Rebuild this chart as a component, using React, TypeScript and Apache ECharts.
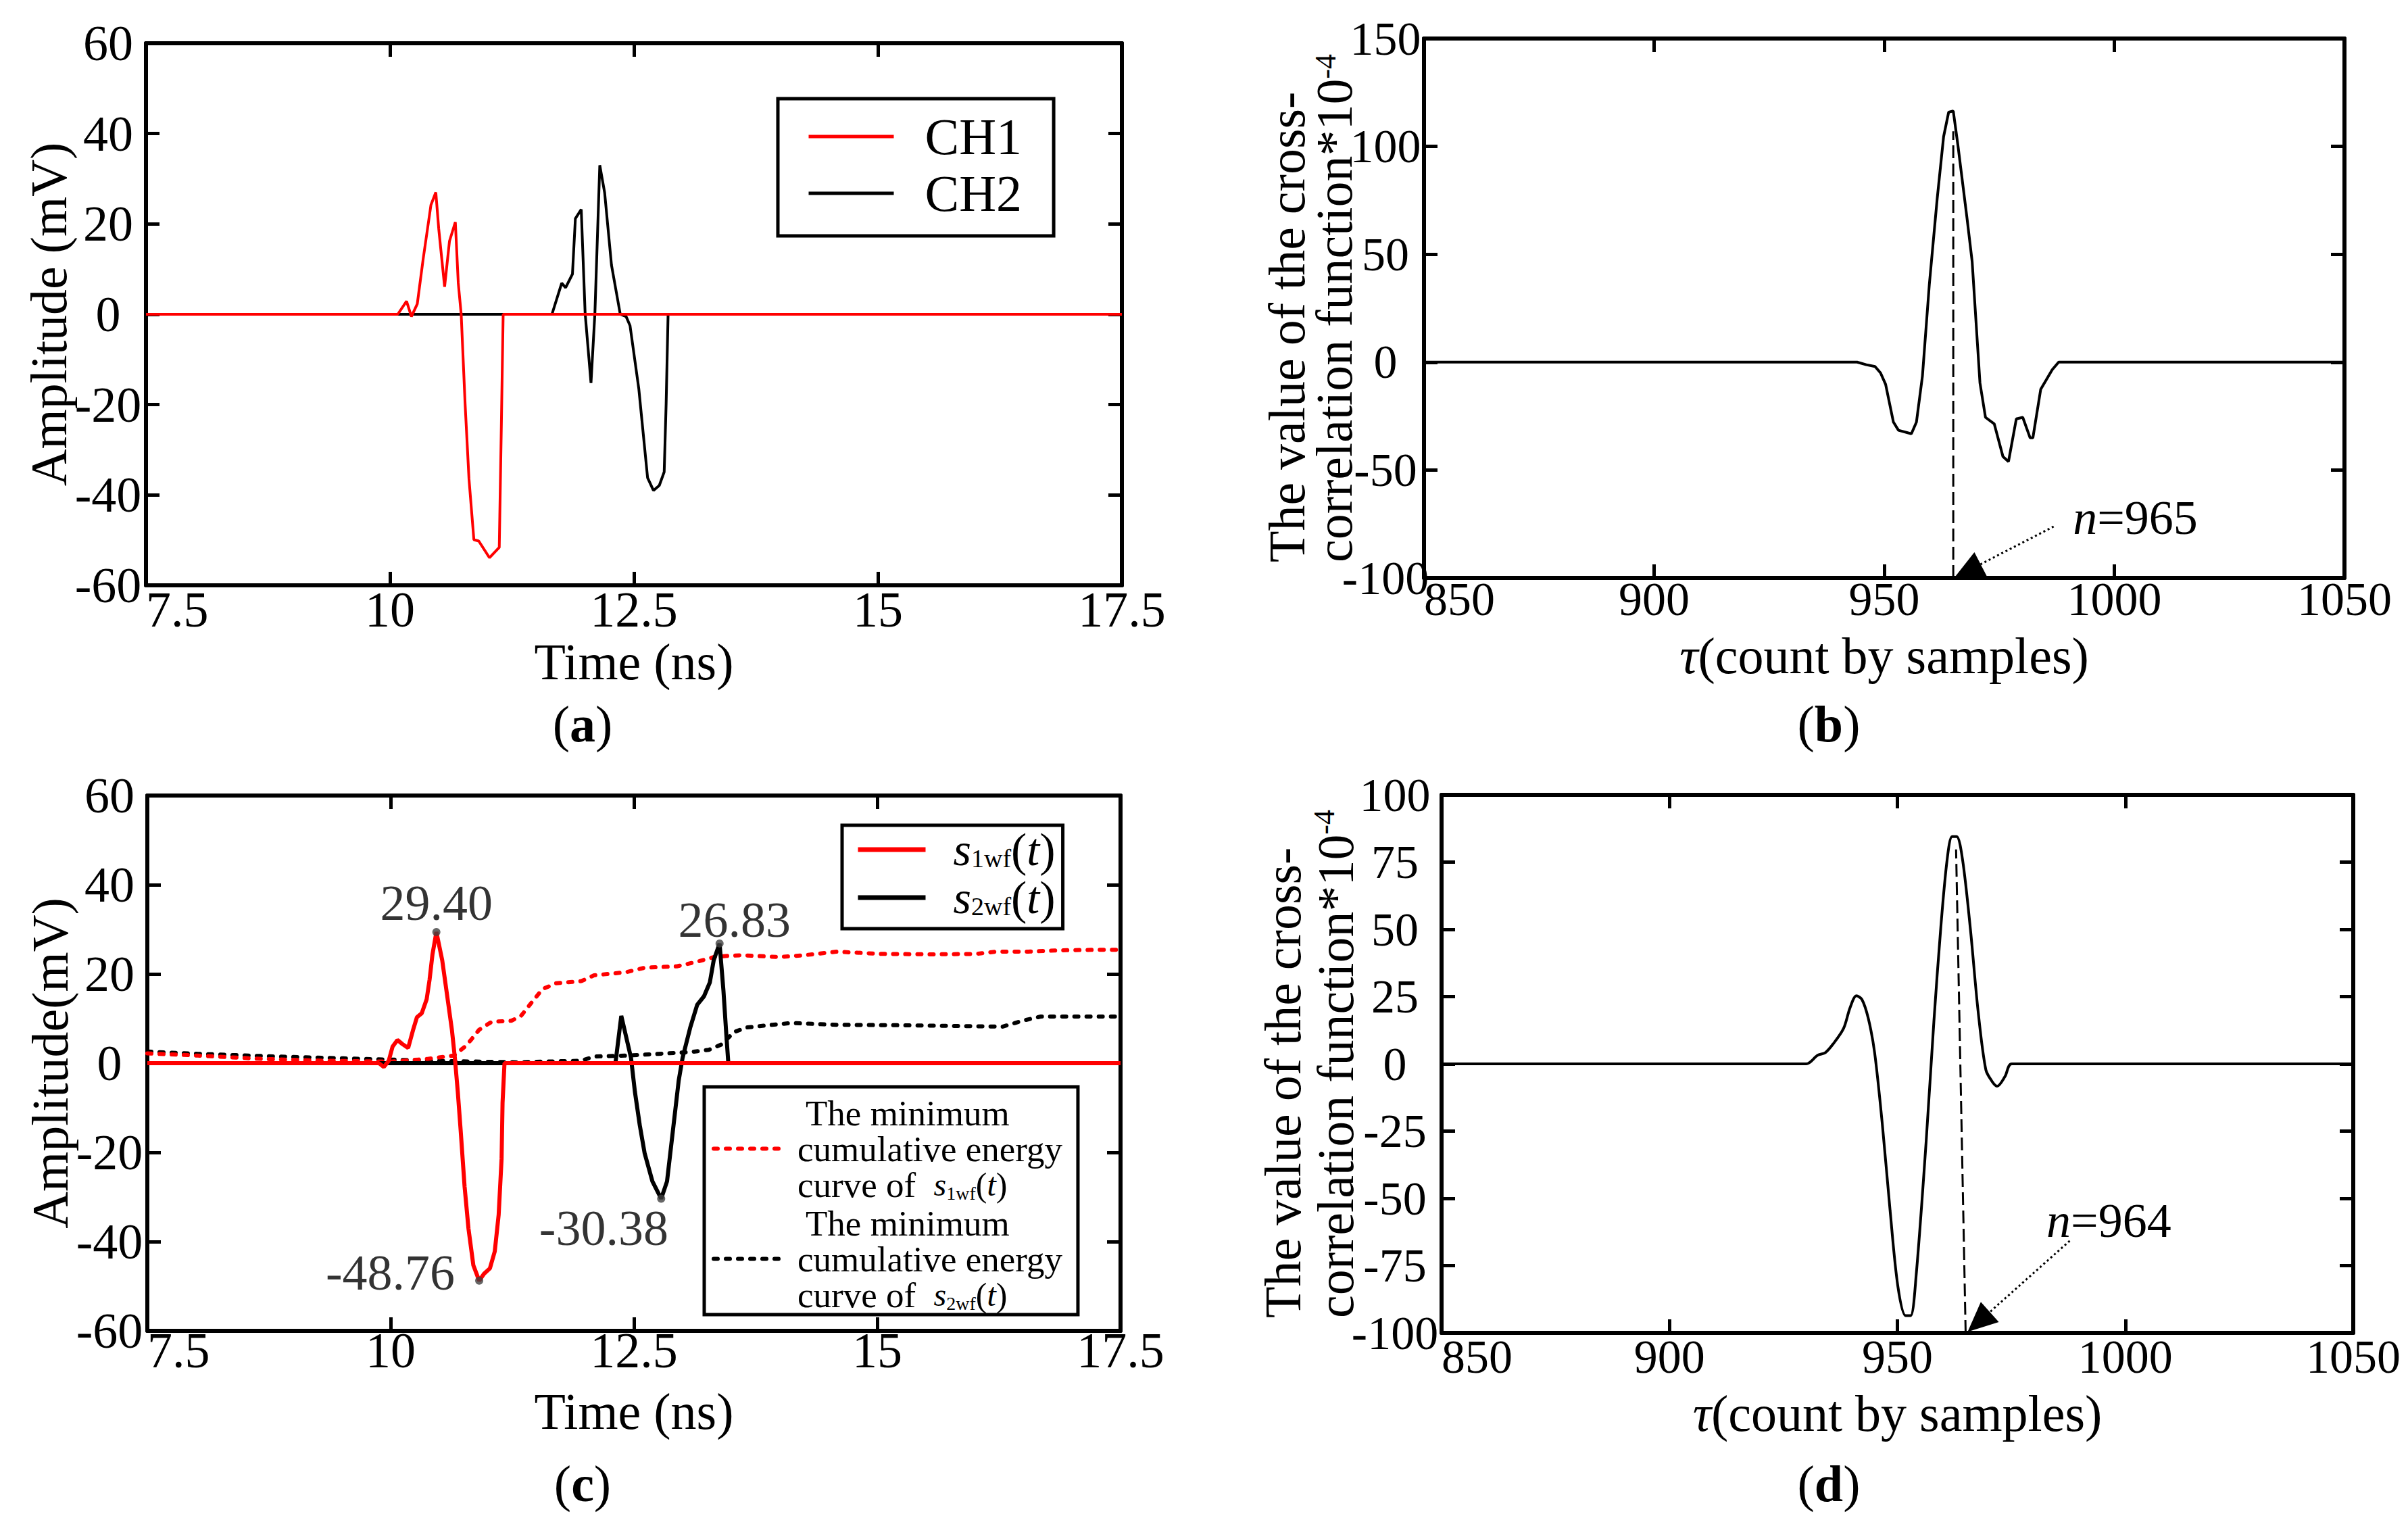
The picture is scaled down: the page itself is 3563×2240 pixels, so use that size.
import React, { useEffect, useRef } from "react";
import * as echarts from "echarts";

const FONT = '"Liberation Serif", "Times New Roman", Times, serif';

// ---------- panel (a) ----------
const timeMin = 7.5;
const timeMax = 17.5;
const timeStep = 2.5;
const ampMin = -60;
const ampMax = 60;
const ampStep = 20;
const ch1Points = [
  [7.5, 0], [10.08, 0], [10.17, 2.9], [10.22, -0.5], [10.28, 2.3], [10.34, 12.2],
  [10.42, 24.2], [10.47, 27], [10.5, 18.9], [10.56, 6.1], [10.61, 16.2], [10.67, 20.4],
  [10.7, 6.9], [10.73, 0], [10.77, -19.8], [10.81, -36.5], [10.86, -49.9], [10.91, -50.2],
  [11.02, -53.9], [11.12, -51.6], [11.14, -26.5], [11.16, 0], [17.5, 0],
];
const ch2Points = [
  [7.5, 0], [11.66, 0], [11.76, 6.9], [11.8, 5.9], [11.87, 8.9], [11.9, 21.2],
  [11.96, 23.2], [12.0, 0.2], [12.06, -15.2], [12.1, 0.2], [12.15, 33], [12.2, 26.9],
  [12.27, 10.9], [12.36, 0], [12.42, -0.5], [12.46, -2.5], [12.55, -16.5], [12.64, -36.2],
  [12.7, -39], [12.76, -37.9], [12.81, -34.9], [12.83, -19.8], [12.85, 0], [17.5, 0],
];

// ---------- panel (b) ----------
const lagMin = 850;
const lagMax = 1050;
const lagStep = 50;
const corrBMin = -100;
const corrBMax = 150;
const corrBStep = 50;
const corrB = [
  [850, 0], [944.1, 0], [946.1, -1.2], [948.0, -2], [949.2, -5], [950.3, -10.3],
  [952.0, -27.8], [953.1, -31.6], [955.9, -33.2], [957.0, -27.8], [958.3, -6.5],
  [959.8, 36], [961.5, 75.6], [962.9, 104.5], [964.0, 115.9], [965.0, 116.4],
  [966.0, 100.7], [968.0, 66.5], [969.1, 46.7], [970.8, -9.6], [972.0, -25.6],
  [973.9, -28.6], [975.8, -43.8], [977.0, -46.1], [978.7, -26.3], [980.1, -25.6],
  [981.7, -35.1], [982.3, -35.1], [984.0, -12.6], [986.5, -3.5], [987.9, 0], [1050, 0],
];
const peakLineB = [[965, -100], [965, 107]];
// [fromX, fromY, toX, toY, textX, textY]
const arrowB = [[986.8, -76.2, 965.2, -100, 991, -72]];
const lagB = 965;

// ---------- panel (c) ----------
const s1wf = [
  [7.5, 0], [9.88, 0], [9.93, -0.85], [9.98, 0.5], [10.02, 3.7], [10.07, 5.2],
  [10.12, 4.3], [10.18, 3.4], [10.23, 7.4], [10.27, 10.3], [10.32, 11.2], [10.37, 14.3],
  [10.4, 18.7], [10.43, 24.4], [10.47, 29.4], [10.53, 23.1], [10.59, 13.7], [10.63, 7.4],
  [10.66, 1.2], [10.69, -6.4], [10.72, -15.2], [10.76, -27.7], [10.8, -37.1], [10.85, -45.3],
  [10.91, -48.76], [10.96, -47.2], [11.02, -46], [11.07, -42.2], [11.11, -34], [11.14, -21.5],
  [11.15, -8.9], [11.17, 0], [17.5, 0],
];
const s2wf = [
  [7.5, 0], [12.31, 0], [12.37, 10.6], [12.47, 1.2], [12.51, -6.4], [12.56, -13.9],
  [12.61, -20.2], [12.69, -26.5], [12.78, -30.38], [12.84, -26.5], [12.9, -15.2],
  [12.96, -3.9], [13.0, 1.2], [13.08, 8.1], [13.15, 13.1], [13.22, 15.0], [13.28, 18.1],
  [13.32, 23.1], [13.38, 26.83], [13.42, 16.2], [13.45, 6.2], [13.47, 0], [17.5, 0],
];
const energy1 = [
  [7.5, 2.2], [8.02, 1.7], [8.68, 0.96], [9.34, 0.55], [10.0, 0.35], [10.38, 0.96],
  [10.65, 1.7], [10.78, 4], [10.91, 7.5], [11.04, 9.3], [11.24, 9.5], [11.34, 10.6],
  [11.43, 13.1], [11.56, 16.6], [11.7, 17.9], [11.96, 18.4], [12.09, 19.7], [12.42, 20.4],
  [12.61, 21.4], [12.94, 21.7], [13.14, 22.7], [13.34, 23.9], [13.6, 24.2], [13.99, 23.8],
  [14.25, 24.2], [14.58, 25.0], [15.04, 24.5], [15.57, 24.4], [16.02, 24.5], [16.22, 25.0],
  [16.55, 25.0], [16.88, 25.3], [17.21, 25.4], [17.5, 25.4],
];
const energy2 = [
  [7.5, 2.6], [8.02, 2.1], [8.68, 1.6], [9.34, 1.2], [10.0, 0.8], [10.65, 0.45],
  [11.31, 0.2], [11.96, 0.55], [12.09, 1.5], [12.42, 1.7], [12.75, 2.1], [13.08, 2.5],
  [13.27, 3.0], [13.4, 4.2], [13.53, 7.0], [13.66, 8.0], [13.92, 8.6], [14.12, 9.0],
  [14.58, 8.6], [15.24, 8.5], [15.9, 8.3], [16.29, 8.2], [16.49, 9.5], [16.68, 10.45],
  [17.5, 10.45],
];
const peaksC = [[10.47, 29.4], [13.38, 26.83], [10.91, -48.76], [12.78, -30.38]];

// ---------- panel (d) ----------
const corrDMin = -100;
const corrDMax = 100;
const corrDStep = 25;
const corrD = [
  [850, 0], [930.0, 0], [932.5, 3.2], [934.2, 4.2], [935.9, 7.4], [938.2, 13.2],
  [939.6, 20.8], [941.0, 25.3], [942.2, 24], [943.6, 17], [945.0, 4.2], [946.7, -22.6],
  [948.4, -54.6], [950.1, -82.7], [951.8, -93.6], [952.9, -93.6], [954.1, -78.9],
  [956.3, -29.0], [958.0, 15.7], [959.5, 50.3], [960.9, 75.8], [962.0, 84.5], [963.0, 84.5],
  [964.3, 75.8], [966.0, 50.3], [967.7, 19.6], [969.4, -2.2], [970.8, -6.6], [971.9, -8.3],
  [973.6, -4.7], [975.1, 0], [1050, 0],
];
const peakLineD = [[964.97, -100], [962.87, 79.7]];
const arrowD = [[987.8, -65.8, 965.4, -99.6, 982.7, -58.4]];
const lagD = 964;

// ---------- names ----------
const nameCH1 = "CH1";
const nameCH2 = "CH2";
const nameS1 = "s1wf(t)";
const nameS2 = "s2wf(t)";
const nameE1 = "The minimum cumulative energy curve of s1wf(t)";
const nameE2 = "The minimum cumulative energy curve of s2wf(t)";

const plainNumber = (v: number) => String(v);

function xAxes(g: number, min: number, max: number, step: number, fontSize: number, margin: number, name: string, nameGap: number, nameStyle: any) {
  const common: any = {
    type: "value", gridIndex: g, min, max, interval: step,
    splitLine: { show: false },
    axisLine: { show: true, onZero: false, lineStyle: { color: "#000", width: 6 } },
    axisTick: { show: true, inside: true, length: 20, lineStyle: { color: "#000", width: 5 } },
  };
  return [
    {
      ...common, position: "bottom",
      axisLabel: {
        show: true, color: "#000", fontFamily: FONT, fontSize, lineHeight: 54, margin,
        alignMinLabel: "left", hideOverlap: false, formatter: plainNumber,
      },
      name, nameLocation: "middle", nameGap, nameMoveOverlap: false,
      nameTextStyle: nameStyle,
    },
    { ...common, position: "top", axisLabel: { show: false } },
  ];
}

function yAxes(g: number, min: number, max: number, step: number, fontSize: number, margin: number, name: string, nameGap: number, nameStyle: any) {
  const common: any = {
    type: "value", gridIndex: g, min, max, interval: step,
    splitLine: { show: false },
    axisLine: { show: true, onZero: false, lineStyle: { color: "#000", width: 6 } },
    axisTick: { show: true, inside: true, length: 20, lineStyle: { color: "#000", width: 5 } },
  };
  return [
    {
      ...common, position: "left",
      axisLabel: { show: true, color: "#000", fontFamily: FONT, fontSize, margin, align: "center", hideOverlap: false, formatter: plainNumber },
      name, nameLocation: "middle", nameGap, nameRotate: 90, nameMoveOverlap: false,
      nameTextStyle: nameStyle,
    },
    { ...common, position: "right", axisLabel: { show: false } },
  ];
}

function plainName(fontSize: number, lineHeight: number) {
  return { fontFamily: FONT, fontSize, lineHeight, color: "#000" };
}

function corrName(lineHeight: number) {
  return {
    fontFamily: FONT, fontSize: 76, color: "#000", lineHeight,
    rich: {
      a: { fontFamily: FONT, fontSize: 76, lineHeight, align: "left", color: "#000" },
      s: { fontFamily: FONT, fontSize: 44, lineHeight: 44, verticalAlign: "top", align: "left", color: "#000" },
    },
  };
}

const corrTitle = "{a|The value of the cross-}\n{a|correlation function*10}{s|-4}";
const tauTitle = "{i|τ}{r|(count by samples)}";

function tauName() {
  return {
    fontFamily: FONT, fontSize: 76, color: "#000", lineHeight: 58,
    rich: {
      i: { fontFamily: FONT, fontSize: 76, fontStyle: "italic", color: "#000", lineHeight: 58 },
      r: { fontFamily: FONT, fontSize: 76, color: "#000", lineHeight: 58 },
    },
  };
}

function arrowRenderer(lag: number) {
  return (params: any, api: any) => {
    const p0 = api.coord([api.value(0), api.value(1)]);
    const p1 = api.coord([api.value(2), api.value(3)]);
    const t = api.coord([api.value(4), api.value(5)]);
    const dx = p1[0] - p0[0];
    const dy = p1[1] - p0[1];
    const len = Math.hypot(dx, dy) || 1;
    const ux = dx / len;
    const uy = dy / len;
    const L = 44;
    const W = 40;
    const bx = p1[0] - ux * L;
    const by = p1[1] - uy * L;
    const nx = -uy;
    const ny = ux;
    return {
      type: "group",
      children: [
        { type: "line", shape: { x1: p0[0], y1: p0[1], x2: bx, y2: by }, style: { stroke: "#000", lineWidth: 3, lineDash: [3, 4] } },
        {
          type: "polygon",
          shape: { points: [[p1[0], p1[1]], [bx + (nx * W) / 2, by + (ny * W) / 2], [bx - (nx * W) / 2, by - (ny * W) / 2]] },
          style: { fill: "#000" },
        },
        {
          type: "text", x: t[0], y: t[1],
          style: {
            text: "{i|n}{r|=" + lag + "}",
            rich: {
              i: { fontFamily: FONT, fontSize: 72, fontStyle: "italic", fill: "#000", color: "#000" },
              r: { fontFamily: FONT, fontSize: 72, fill: "#000", color: "#000" },
            },
            fontFamily: FONT, fontSize: 72, fill: "#000",
            align: "left", textAlign: "left", verticalAlign: "middle", textVerticalAlign: "middle",
          },
        },
      ],
    };
  };
}

function subRich(big: number, sub: number, paren: number, lh: number) {
  return {
    s: { fontFamily: FONT, fontSize: big, fontStyle: "italic", color: "#000", lineHeight: lh },
    b: { fontFamily: FONT, fontSize: sub, color: "#000", lineHeight: lh, verticalAlign: "bottom" },
    p: { fontFamily: FONT, fontSize: paren, color: "#000", lineHeight: lh },
    t: { fontFamily: FONT, fontSize: big, fontStyle: "italic", color: "#000", lineHeight: lh },
  };
}

function buildOption(): any {
  const grids = [
    { left: 216, top: 64, width: 1444, height: 802 },
    { left: 2107, top: 57, width: 1362, height: 798 },
    { left: 218, top: 1177, width: 1440, height: 792 },
    { left: 2133, top: 1176, width: 1349, height: 796 },
  ].map((g) => ({ ...g, containLabel: false, outerBoundsMode: "none", show: false }));

  const xAxis = [
    ...xAxes(0, timeMin, timeMax, timeStep, 74, 9, "Time (ns)", 84, plainName(76, 58)),
    ...xAxes(1, lagMin, lagMax, lagStep, 70, 4, tauTitle, 86, tauName()),
    ...xAxes(2, timeMin, timeMax, timeStep, 74, 2, "Time (ns)", 90, plainName(76, 58)),
    ...xAxes(3, lagMin, lagMax, lagStep, 70, 8, tauTitle, 90, tauName()),
  ];
  const yAxis = [
    ...yAxes(0, ampMin, ampMax, ampStep, 74, 56, "Amplitude (mV)", 106, plainName(76, 76)),
    ...yAxes(1, corrBMin, corrBMax, corrBStep, 70, 57, corrTitle, 98, corrName(70)),
    ...yAxes(2, ampMin, ampMax, ampStep, 74, 56, "Amplitude(mV)", 106, plainName(76, 76)),
    ...yAxes(3, corrDMin, corrDMax, corrDStep, 70, 69, corrTitle, 118, corrName(78)),
  ];

  const line = (name: string, data: number[][], g: number, color: string, width: number, extra: any = {}) => ({
    type: "line", name, data, xAxisIndex: 2 * g, yAxisIndex: 2 * g,
    symbol: "none", showSymbol: false, color,
    lineStyle: { color, width, ...(extra.lineStyle || {}) },
    smooth: extra.smooth || false,
    z: extra.z || 2,
  });

  const labelFont = { color: "#000", fontFamily: FONT, fontSize: 74 };
  const peakLabelStyles = [
    { position: "top", distance: 0, ...labelFont },
    { position: "top", distance: -8, offset: [22, 0], ...labelFont },
    { position: "left", distance: 30, offset: [0, -12], ...labelFont },
    { position: "bottom", distance: 0, offset: [-85, 0], ...labelFont },
  ];

  const series: any[] = [
    // (a)
    line(nameCH2, ch2Points, 0, "#000000", 4),
    line(nameCH1, ch1Points, 0, "#ff0000", 4),
    // (b)
    line("Cross-correlation (b)", corrB, 1, "#000000", 4),
    line("Peak lag (b)", peakLineB, 1, "#000000", 3, { lineStyle: { type: [19, 8] } }),
    {
      type: "custom", name: "Arrow (b)", xAxisIndex: 2, yAxisIndex: 2, data: arrowB,
      encode: { x: [0, 2, 4], y: [1, 3, 5] }, renderItem: arrowRenderer(lagB), clip: false, z: 5,
    },
    // (c)
    line(nameE2, energy2, 2, "#000000", 6, { lineStyle: { type: [6, 12], cap: "round" } }),
    line(nameE1, energy1, 2, "#ff0000", 6, { lineStyle: { type: [6, 12], cap: "round" } }),
    line(nameS2, s2wf, 2, "#000000", 6),
    line(nameS1, s1wf, 2, "#ff0000", 6),
    {
      type: "scatter", name: "Peaks (c)", xAxisIndex: 4, yAxisIndex: 4,
      symbol: "circle", symbolSize: 12, itemStyle: { color: "#404040" }, z: 6,
      data: peaksC.map((p, i) => ({ value: p, label: peakLabelStyles[i] })),
      label: {
        show: true, ...labelFont,
        formatter: (p: any) => Number(p.value[1]).toFixed(2),
      },
    },
    // (d)
    line("Cross-correlation (d)", corrD, 3, "#000000", 4, { smooth: 0.3 }),
    line("Peak lag (d)", peakLineD, 3, "#000000", 3, { lineStyle: { type: [19, 8] } }),
    {
      type: "custom", name: "Arrow (d)", xAxisIndex: 6, yAxisIndex: 6, data: arrowD,
      encode: { x: [0, 2, 4], y: [1, 3, 5] }, renderItem: arrowRenderer(lagD), clip: false, z: 5,
    },
  ];

  const legendBase = {
    show: true, orient: "vertical", selectedMode: false,
    backgroundColor: "#ffffff", borderColor: "#000", borderWidth: 5, borderRadius: 0,
    itemStyle: { opacity: 0, borderWidth: 0 },
  };

  const legend = [
    {
      ...legendBase, left: 1151, top: 146, data: [nameCH1, nameCH2],
      padding: [16, 47, 23, 43], itemGap: 4, itemWidth: 126, itemHeight: 20,
      lineStyle: { width: 5 },
      formatter: (n: string) => "{g| }{t|" + n + "}",
      textStyle: {
        fontFamily: FONT, fontSize: 76, color: "#000", lineHeight: 80,
        rich: { g: { width: 41 }, t: { fontFamily: FONT, fontSize: 76, lineHeight: 80, color: "#000" } },
      },
    },
    {
      ...legendBase, left: 1246, top: 1221, data: [nameS1, nameS2],
      padding: [1, 11, 11, 20], itemGap: 1, itemWidth: 100, itemHeight: 20,
      lineStyle: { width: 7 },
      formatter: (n: string) => "{g| }{s|s}{b|" + (n === nameS1 ? "1wf" : "2wf") + "}{p|(}{t|t}{p|)}",
      textStyle: {
        fontFamily: FONT, fontSize: 64, color: "#000", lineHeight: 64,
        rich: { g: { width: 36, lineHeight: 64 }, ...subRich(68, 38, 70, 64) },
      },
    },
    {
      ...legendBase, left: 1042, top: 1608, data: [nameE1, nameE2],
      padding: [12, 23, 3, 11], itemGap: 4, itemWidth: 105, itemHeight: 20,
      lineStyle: { width: 6 },
      formatter: (n: string) => {
        const k = n === nameE1 ? "1wf" : "2wf";
        return "{h| }{c|The minimum}\n{g| }{c|cumulative energy}\n{g| }{c|curve of  }{s|s}{b|" + k + "}{p|(}{t|t}{p|)}";
      },
      textStyle: {
        fontFamily: FONT, fontSize: 52, color: "#000", lineHeight: 53,
        rich: {
          h: { width: 26, lineHeight: 53 },
          g: { width: 14, lineHeight: 53 },
          c: { fontFamily: FONT, fontSize: 53, color: "#000", lineHeight: 53 },
          ...subRich(48, 28, 50, 53),
        },
      },
    },
  ];

  const panelLabel = (x: number, y: number, letter: string) => ({
    type: "text", x, y, z: 10,
    style: {
      text: "({b|" + letter + "})",
      rich: { b: { fontFamily: FONT, fontSize: 76, fontWeight: "bold", fill: "#000", color: "#000" } },
      fontFamily: FONT, fontSize: 76, fill: "#000",
      align: "center", textAlign: "center", verticalAlign: "middle", textVerticalAlign: "middle",
    },
  });

  return {
    animation: false,
    backgroundColor: "#ffffff",
    textStyle: { fontFamily: FONT },
    grid: grids,
    xAxis,
    yAxis,
    legend,
    series,
    graphic: [
      panelLabel(862, 1071, "a"),
      panelLabel(2706, 1071, "b"),
      panelLabel(862, 2195, "c"),
      panelLabel(2706, 2195, "d"),
    ],
  };
}

export default function App() {
  const ref = useRef<HTMLDivElement | null>(null);
  useEffect(() => {
    if (!ref.current) return;
    const chart = echarts.init(ref.current, null, { renderer: "svg" });
    chart.setOption(buildOption());
    return () => chart.dispose();
  }, []);
  return (
    <div
      ref={ref}
      style={{ position: "absolute", left: 0, top: 0, width: 3563, height: 2240, background: "#fff" }}
    />
  );
}
